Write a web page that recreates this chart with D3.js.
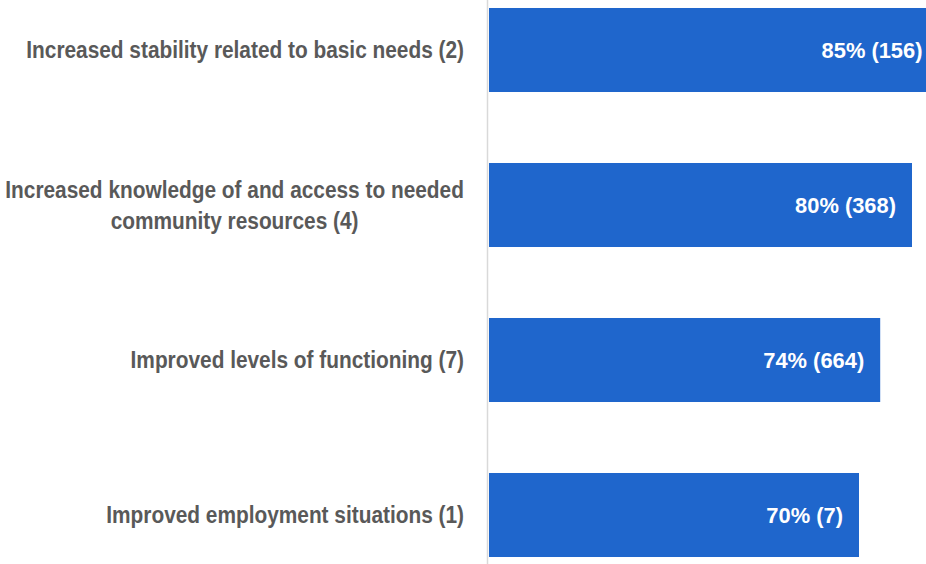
<!DOCTYPE html>
<html>
<head>
<meta charset="utf-8">
<script src="https://cdn.jsdelivr.net/npm/d3@7"></script>
<style>
  html, body { margin: 0; padding: 0; background: #ffffff; }
  svg { display: block; }
</style>
</head>
<body>
<svg id="chart" width="926" height="564"></svg>
<script>
// Outcome categories (top to bottom); "\n" marks a wrapped label line
const categories = [
  "Increased stability related to basic needs (2)",
  "Increased knowledge of and access to needed\ncommunity resources (4)",
  "Improved levels of functioning (7)",
  "Improved employment situations (1)"
];
// Share of participants reporting the outcome (%)
const percents = [85, 80, 74, 70];
// Number of respondents behind each share
const counts = [156, 368, 664, 7];

const W = 926, H = 564;
const svg = d3.select("#chart");

const FONT = "'Liberation Sans Narrow', 'Liberation Sans', Arial, sans-serif";
const BAR = "#1f66cc";
const LABEL = "#595959";

// Horizontal value scale: 0% sits on the category axis line
const x = d3.scaleLinear().domain([0, 100]).range([488, 1018]);

// Category bands; the plot runs past the bottom edge of the view
const y = d3.scaleBand()
  .domain(categories)
  .range([-27.5, 592.5])
  .paddingInner(0.458)
  .paddingOuter(0.229);

const rows = categories.map((c, i) => ({ cat: c, pct: percents[i], n: counts[i] }));

// Bars
svg.append("g")
  .selectAll("rect")
  .data(rows)
  .join("rect")
  .attr("x", x(0) + 1)
  .attr("y", d => y(d.cat))
  .attr("width", d => x(d.pct) - x(0) - 1)
  .attr("height", y.bandwidth())
  .attr("fill", BAR);

// Category axis line
svg.append("line")
  .attr("x1", x(0) - 0.5).attr("x2", x(0) - 0.5)
  .attr("y1", 0).attr("y2", H)
  .attr("stroke", "#d9d9d9")
  .attr("stroke-width", 1.5);

// Condensing factor so the sans face reads with the narrow look of the labels
function fitScale(text, size, weight, target) {
  const t = svg.append("text")
    .attr("font-family", FONT).attr("font-size", size).attr("font-weight", weight)
    .text(text);
  const w = t.node().getComputedTextLength();
  t.remove();
  return target / w;
}

const catSize = 23;
const catScale = fitScale(categories[0], catSize, "bold", 438);
const labelRight = 464;
const lineGap = 31.5;
const capOff = catSize * 0.72 / 2;

// Category labels, right-aligned; wrapped labels centered as a block
const catG = svg.append("g");
rows.forEach(d => {
  const lines = d.cat.split("\n");
  const cy = y(d.cat) + y.bandwidth() / 2;
  if (lines.length === 1) {
    catG.append("text")
      .attr("transform", `translate(${labelRight},${cy + capOff}) scale(${catScale},1)`)
      .attr("text-anchor", "end")
      .attr("font-family", FONT).attr("font-size", catSize).attr("font-weight", "bold")
      .attr("fill", LABEL)
      .text(lines[0]);
  } else {
    const widths = lines.map(l => {
      const t = svg.append("text").attr("font-family", FONT)
        .attr("font-size", catSize).attr("font-weight", "bold").text(l);
      const w = t.node().getComputedTextLength() * catScale;
      t.remove();
      return w;
    });
    const mid = labelRight - d3.max(widths) / 2;
    lines.forEach((l, k) => {
      const ly = cy + (k - (lines.length - 1) / 2) * lineGap + capOff;
      catG.append("text")
        .attr("transform", `translate(${mid},${ly}) scale(${catScale},1)`)
        .attr("text-anchor", "middle")
        .attr("font-family", FONT).attr("font-size", catSize).attr("font-weight", "bold")
        .attr("fill", LABEL)
        .text(l);
    });
  }
});

// Value labels inside the bar ends
const valSize = 22;
const fmt = d => `${d.pct}% (${d.n})`;
const valScale = fitScale(fmt(rows[0]), valSize, "bold", 101);
svg.append("g")
  .selectAll("text")
  .data(rows)
  .join("text")
  .attr("transform", d => `translate(${x(d.pct) - 16},${y(d.cat) + y.bandwidth() / 2 + valSize * 0.72 / 2}) scale(${valScale},1)`)
  .attr("text-anchor", "end")
  .attr("font-family", FONT).attr("font-size", valSize).attr("font-weight", "bold")
  .attr("fill", "#ffffff")
  .text(fmt);
</script>
</body>
</html>
